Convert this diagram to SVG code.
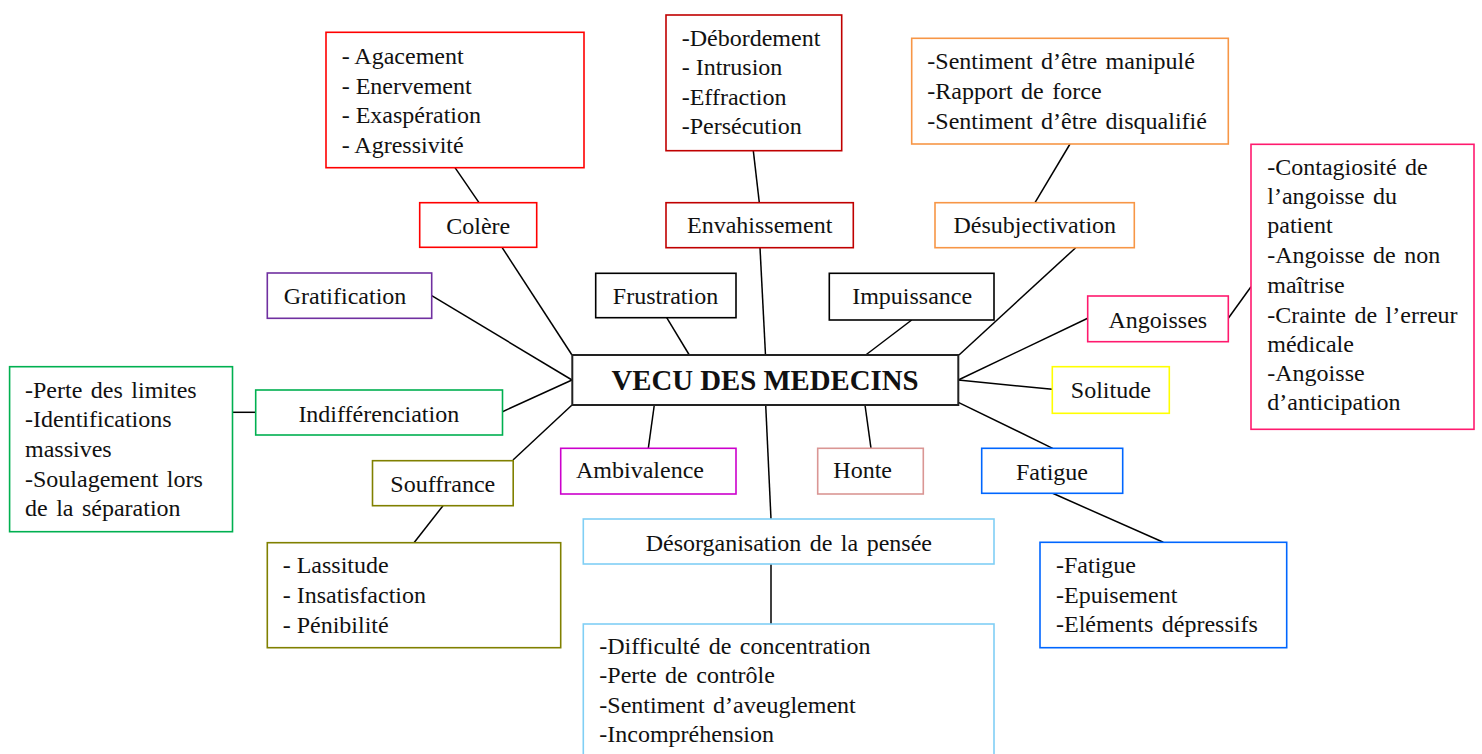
<svg xmlns="http://www.w3.org/2000/svg" width="1482" height="754" viewBox="0 0 1482 754">
<style>
text{font-family:"Liberation Serif","Times New Roman",serif;font-size:24px;fill:#111;word-spacing:2.5px}
.c{text-anchor:middle}
.d{word-spacing:0}
rect{fill:#fff;stroke-width:1.6}
#connectors line{stroke:#000;stroke-width:1.5}
</style>
<rect x="0" y="0" width="1482" height="754" fill="#fff" stroke="none"/>
<g id="connectors">
<line x1="455" y1="167.7" x2="479" y2="202.7"/>
<line x1="502" y1="247.3" x2="572" y2="355"/>
<line x1="431.7" y1="295.7" x2="572" y2="380"/>
<line x1="753.3" y1="150.7" x2="759.3" y2="202.7"/>
<line x1="760" y1="247.7" x2="765.5" y2="355"/>
<line x1="666.7" y1="317.7" x2="689.3" y2="355"/>
<line x1="911.7" y1="320" x2="865.7" y2="355"/>
<line x1="1070" y1="144" x2="1035" y2="202.7"/>
<line x1="1075.7" y1="247.7" x2="959" y2="355"/>
<line x1="1087.7" y1="318.3" x2="958.3" y2="380"/>
<line x1="1228.3" y1="318.3" x2="1251" y2="286.7"/>
<line x1="1052.3" y1="389.3" x2="958.3" y2="380"/>
<line x1="958.3" y1="402.3" x2="1052.7" y2="448.3"/>
<line x1="1052.7" y1="493.3" x2="1163.3" y2="542.3"/>
<line x1="865" y1="405" x2="871" y2="448.3"/>
<line x1="765.7" y1="405" x2="771" y2="519"/>
<line x1="771" y1="564" x2="771" y2="624"/>
<line x1="654.3" y1="405" x2="648.3" y2="448.3"/>
<line x1="513" y1="460" x2="572" y2="405"/>
<line x1="443" y1="505.7" x2="414" y2="542.7"/>
<line x1="502.5" y1="411.7" x2="572" y2="380"/>
<line x1="232.5" y1="412.3" x2="255.7" y2="412.3"/>
</g>
<g id="center">
<rect x="572.3" y="355" width="386" height="50" stroke="#222" style="stroke-width:2"/>
<text x="765" y="390" class="c d" style="font-weight:bold;font-size:28.8px">VECU DES MEDECINS</text>
</g>
<g id="colere-list">
<rect x="326" y="32.3" width="258" height="135.4" stroke="#FF0000"/>
<text x="341.7" y="64.3" class="d">- Agacement</text>
<text x="341.7" y="94" class="d">- Enervement</text>
<text x="341.7" y="123.3" class="d">- Exaspération</text>
<text x="341.7" y="152.7" class="d">- Agressivité</text>
</g>
<g id="colere">
<rect x="419.7" y="202.7" width="117" height="44.6" stroke="#FF0000"/>
<text x="478.2" y="234" class="c">Colère</text>
</g>
<g id="gratification">
<rect x="267.3" y="273" width="164.4" height="45.3" stroke="#7030A0"/>
<text x="345" y="303.5" class="c">Gratification</text>
</g>
<g id="envahissement-list">
<rect x="666" y="15" width="175.7" height="135.7" stroke="#C00000"/>
<text x="681.7" y="46">-Débordement</text>
<text x="681.7" y="75.3" class="d">- Intrusion</text>
<text x="681.7" y="105">-Effraction</text>
<text x="681.7" y="134.3">-Persécution</text>
</g>
<g id="envahissement">
<rect x="666" y="202.7" width="187.3" height="45" stroke="#C00000"/>
<text x="759.7" y="232.7" class="c">Envahissement</text>
</g>
<g id="frustration">
<rect x="595.7" y="273.3" width="140.3" height="44.4" stroke="#000"/>
<text x="665.5" y="304" class="c">Frustration</text>
</g>
<g id="impuissance">
<rect x="829.3" y="273.3" width="164.7" height="46.7" stroke="#000"/>
<text x="912.2" y="304" class="c">Impuissance</text>
</g>
<g id="desubjectivation-list">
<rect x="911.7" y="38.3" width="316.6" height="105.7" stroke="#F79646"/>
<text x="927.3" y="69.3">-Sentiment d’être manipulé</text>
<text x="927.3" y="99.3">-Rapport de force</text>
<text x="927.3" y="129">-Sentiment d’être disqualifié</text>
</g>
<g id="desubjectivation">
<rect x="935" y="202.7" width="199.3" height="45" stroke="#F79646"/>
<text x="1034.8" y="233.3" class="c">Désubjectivation</text>
</g>
<g id="angoisses">
<rect x="1087.7" y="296" width="140.6" height="45.7" stroke="#FF1A6E"/>
<text x="1157.8" y="327.7" class="c">Angoisses</text>
</g>
<g id="angoisses-list">
<rect x="1251" y="144.3" width="223" height="285" stroke="#FF1A6E"/>
<text x="1267.3" y="175">-Contagiosité de</text>
<text x="1267.3" y="204">l’angoisse du</text>
<text x="1267.3" y="233.3">patient</text>
<text x="1267.3" y="263.3">-Angoisse de non</text>
<text x="1267.3" y="292.7">maîtrise</text>
<text x="1267.3" y="322.7">-Crainte de l’erreur</text>
<text x="1267.3" y="351.7">médicale</text>
<text x="1267.3" y="380.7">-Angoisse</text>
<text x="1267.3" y="410">d’anticipation</text>
</g>
<g id="solitude">
<rect x="1052.3" y="366.7" width="117" height="46.6" stroke="#FFFF00"/>
<text x="1110.8" y="397.7" class="c">Solitude</text>
</g>
<g id="fatigue">
<rect x="981.7" y="448.3" width="141" height="45" stroke="#0066FF"/>
<text x="1052" y="480" class="c">Fatigue</text>
</g>
<g id="fatigue-list">
<rect x="1040" y="542.3" width="246.7" height="105.4" stroke="#0066FF"/>
<text x="1056" y="573.3">-Fatigue</text>
<text x="1056" y="603.3">-Epuisement</text>
<text x="1056" y="632.3">-Eléments dépressifs</text>
</g>
<g id="honte">
<rect x="817.7" y="448.3" width="105.6" height="45.7" stroke="#DA9694"/>
<text x="833.3" y="478.3">Honte</text>
</g>
<g id="ambivalence">
<rect x="560.7" y="448.3" width="175.3" height="45.7" stroke="#CC00CC"/>
<text x="576" y="478.3">Ambivalence</text>
</g>
<g id="desorganisation">
<rect x="583.3" y="519" width="410.7" height="45" stroke="#80CFF5"/>
<text x="788.8" y="550.7" class="c">Désorganisation de la pensée</text>
</g>
<g id="desorganisation-list">
<rect x="583.3" y="624" width="410.7" height="140" stroke="#80CFF5"/>
<text x="599.3" y="654.3">-Difficulté de concentration</text>
<text x="599.3" y="683.3">-Perte de contrôle</text>
<text x="599.3" y="713.3">-Sentiment d’aveuglement</text>
<text x="599.3" y="742.3">-Incompréhension</text>
</g>
<g id="souffrance">
<rect x="372.5" y="460.7" width="140.7" height="45" stroke="#808000"/>
<text x="442.8" y="491.7" class="c">Souffrance</text>
</g>
<g id="souffrance-list">
<rect x="267.3" y="542.7" width="293.4" height="105" stroke="#808000"/>
<text x="282.7" y="573.3" class="d">- Lassitude</text>
<text x="282.7" y="603.3" class="d">- Insatisfaction</text>
<text x="282.7" y="633.3" class="d">- Pénibilité</text>
</g>
<g id="indifferenciation">
<rect x="255.7" y="390" width="246.8" height="45" stroke="#00B050"/>
<text x="378.8" y="421.7" class="c">Indifférenciation</text>
</g>
<g id="indifferenciation-list">
<rect x="9.6" y="366.7" width="222.9" height="165" stroke="#00B050"/>
<text x="25" y="398.3">-Perte des limites</text>
<text x="25" y="427.3">-Identifications</text>
<text x="25" y="456.7">massives</text>
<text x="25" y="486.7">-Soulagement lors</text>
<text x="25" y="515.7">de la séparation</text>
</g>
</svg>
